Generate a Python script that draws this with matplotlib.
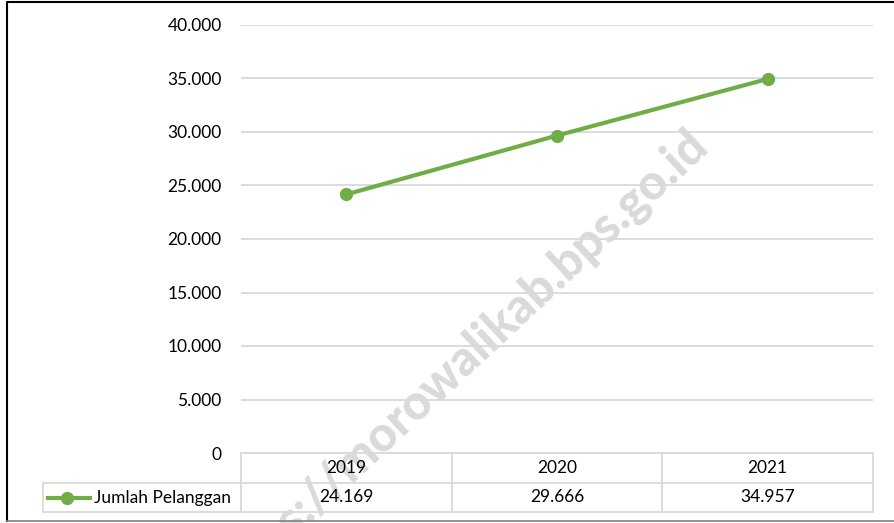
import matplotlib.pyplot as plt
import matplotlib.transforms as mtransforms
from matplotlib.lines import Line2D

plt.rcParams['font.family'] = ['Lato', 'DejaVu Sans']

# data
years = ['2019', '2020', '2021']
pelanggan = [24169, 29666, 34957]
series_name = 'Jumlah Pelanggan'
y_ticks = [0, 5000, 10000, 15000, 20000, 25000, 30000, 35000, 40000]

W, H = 895, 523
FS = 12.5


def fmt(v):
    return f'{v:,}'.replace(',', '.')


def fy(py):
    # pixel row -> figure fraction
    return 1 - py / H


fig = plt.figure(figsize=(W / 100, H / 100), dpi=100)
ax = fig.add_axes([241 / W, fy(453), (873 - 241) / W, (453 - 25) / H])

green = '#70AD47'
grid_c = '#D9D9D9'
xs = list(range(len(years)))

ax.plot(xs, pelanggan, color=green, lw=3, marker='o', ms=8.5, zorder=3,
        solid_capstyle='round')
ax.set_xlim(-0.5, len(years) - 0.5)
ax.set_ylim(0, 40000)
ax.set_yticks(y_ticks)
ax.set_yticklabels([fmt(v) if v else '0' for v in y_ticks], fontsize=FS)
ax.tick_params(axis='y', length=0, pad=14)
ax.set_xticks([])
ax.grid(axis='y', color=grid_c, lw=1.3)
ax.set_axisbelow(True)
for s in ax.spines.values():
    s.set_visible(False)

# data table below the axes
trans = mtransforms.blended_transform_factory(ax.transData, fig.transFigure)
r0, r1, r2 = fy(453), fy(483), fy(512)
lkw = dict(color=grid_c, lw=1.3, clip_on=False)
bounds = [i - 0.5 for i in range(len(years) + 1)]
fig.add_artist(Line2D([bounds[0], bounds[-1]], [r0, r0], transform=trans, **lkw))
fig.add_artist(Line2D([43 / W, 873 / W], [r1, r1], **lkw))
fig.add_artist(Line2D([43 / W, 873 / W], [r2, r2], **lkw))
fig.add_artist(Line2D([43 / W, 43 / W], [r1, r2], **lkw))
for b in bounds:
    fig.add_artist(Line2D([b, b], [r0, r2], transform=trans, **lkw))
for i, (yr, v) in enumerate(zip(years, pelanggan)):
    fig.text(i, (r0 + r1) / 2, yr, transform=trans, ha='center', va='center', fontsize=FS)
    fig.text(i, (r1 + r2) / 2, fmt(v), transform=trans, ha='center', va='center', fontsize=FS)

# legend key inside the table
ym = (r1 + r2) / 2
fig.add_artist(Line2D([48 / W, 90 / W], [ym, ym], color=green, lw=3))
fig.add_artist(Line2D([67 / W], [ym], color=green, marker='o', ms=8.5, lw=0))
fig.text(94 / W, ym, series_name, ha='left', va='center', fontsize=FS)

# watermark
fig.text(458 / W, fy(364), 'https://morowalikab.bps.go.id', fontsize=35,
         fontweight='black', color='#DADADA', rotation=43, ha='center',
         va='center', zorder=0.5)

# chart frame
fig.add_artist(Line2D([7 / W, 7 / W, 1.01], [fy(521), fy(2), fy(2)], color='black', lw=1.5))
fig.add_artist(Line2D([7 / W, 1.01], [fy(521), fy(521)], color='#808080', lw=1.2))

fig.savefig('out.png', dpi=100)
